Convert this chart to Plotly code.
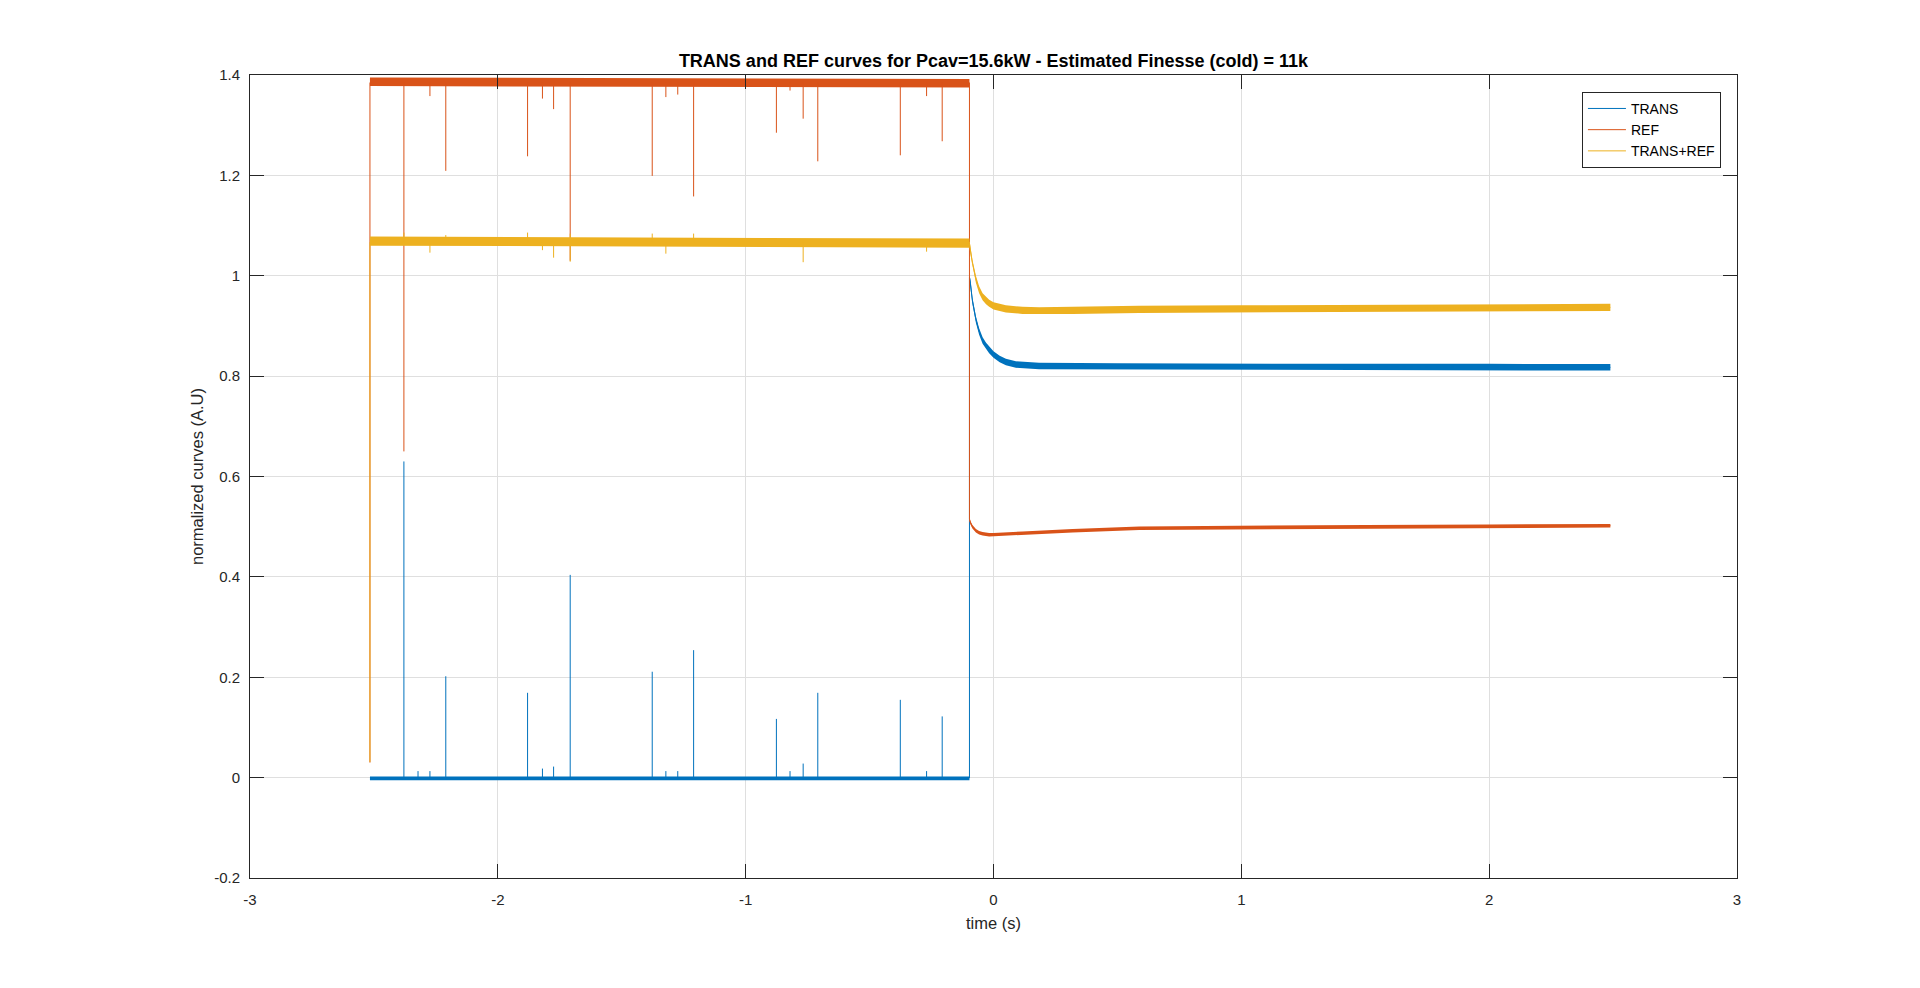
import plotly.graph_objects as go

# ---------------- data ----------------
t_start = -2.516          # start of acquisition (s)
t_step = -0.097           # time of the lock loss / power step (s)

# TRANS
trans_start_val = -0.001
trans_pre_t = [-2.516, -0.097]
trans_pre_hi = [0.002, 0.002]
trans_pre_lo = [-0.005, -0.005]
trans_base = -0.001
trans_spike_t = [-2.379, -2.322, -2.274, -2.210, -1.880, -1.820, -1.775, -1.708, -1.377,
                 -1.322, -1.274, -1.210, -0.876, -0.821, -0.768, -0.709, -0.376, -0.270, -0.207]
trans_spike_v = [0.630, 0.013, 0.013, 0.202, 0.169, 0.018, 0.022, 0.404, 0.211,
                 0.013, 0.013, 0.254, 0.117, 0.013, 0.028, 0.169, 0.155, 0.013, 0.122]
trans_post_t = [-0.097, -0.093, -0.085, -0.071, -0.058, -0.044, -0.030, -0.0175, 0.0, 0.025,
                0.050, 0.090, 0.184, 0.5, 1.0, 1.5, 2.0, 2.489]
trans_post_c = [0.997, 0.985, 0.950, 0.913, 0.889, 0.871, 0.860, 0.852, 0.843, 0.834,
                0.828, 0.823, 0.820, 0.819, 0.818, 0.818, 0.818, 0.8175]
trans_post_half = 0.0065

# REF
ref_start_val = 0.03
ref_pre_t = [-2.516, -0.097]
ref_pre_hi = [1.395, 1.392]
ref_pre_lo = [1.378, 1.375]
ref_base = 1.385
ref_spike_t = [-2.379, -2.274, -2.210, -1.880, -1.820, -1.775, -1.708, -1.377, -1.322,
               -1.274, -1.210, -0.876, -0.821, -0.768, -0.709, -0.376, -0.270, -0.207]
ref_spike_v = [0.650, 1.358, 1.209, 1.238, 1.353, 1.332, 1.030, 1.199, 1.356,
               1.361, 1.158, 1.285, 1.369, 1.313, 1.228, 1.240, 1.358, 1.268]
ref_post_t = [-0.097, -0.093, -0.085, -0.071, -0.058, -0.044, -0.0175, 0.0, 0.117, 0.319,
              0.588, 1.0, 1.5, 2.0, 2.489]
ref_post_c = [0.515, 0.508, 0.500, 0.492, 0.488, 0.486, 0.484, 0.484, 0.487, 0.492,
              0.497, 0.499, 0.500, 0.501, 0.502]
ref_post_half = 0.0035

# TRANS+REF
sum_start_val = 0.031
sum_pre_t = [-2.516, -0.097]
sum_pre_hi = [1.078, 1.074]
sum_pre_lo = [1.060, 1.056]
sum_base = 1.067
sum_spike_t = [-2.379, -2.274, -2.210, -1.880, -1.820, -1.775, -1.708, -1.708, -1.377,
               -1.322, -1.210, -0.768, -0.270]
sum_spike_v = [1.086, 1.046, 1.081, 1.086, 1.051, 1.036, 1.084, 1.028, 1.084,
               1.044, 1.084, 1.027, 1.048]
sum_post_t = [-0.097, -0.093, -0.085, -0.071, -0.058, -0.044, -0.030, -0.0175, 0.0, 0.050,
              0.117, 0.184, 0.319, 0.588, 1.0, 1.5, 2.0, 2.489]
sum_post_c = [1.064, 1.050, 1.025, 0.993, 0.972, 0.958, 0.950, 0.945, 0.940, 0.934,
              0.931, 0.930, 0.931, 0.933, 0.934, 0.935, 0.936, 0.937]
sum_post_half = 0.007

# axes / labels
x_ticks = [-3, -2, -1, 0, 1, 2, 3]
x_ticktext = ["-3", "-2", "-1", "0", "1", "2", "3"]
y_ticks = [-0.2, 0, 0.2, 0.4, 0.6, 0.8, 1, 1.2, 1.4]
y_ticktext = ["-0.2", "0", "0.2", "0.4", "0.6", "0.8", "1", "1.2", "1.4"]
title_text = "TRANS and REF curves for Pcav=15.6kW - Estimated Finesse (cold) = 11k"
names = ["TRANS", "REF", "TRANS+REF"]
colors = ["#0072BD", "#D95319", "#EDB120"]

# ---------------- figure ----------------
fig = go.Figure()


def add_series(name, color, start_val, pre_t, pre_hi, pre_lo, base,
               sp_t, sp_v, post_t, post_c, post_half):
    # noise band before the step
    fig.add_trace(go.Scatter(
        x=list(pre_t) + list(pre_t[::-1]),
        y=list(pre_hi) + list(pre_lo[::-1]),
        fill="toself", fillcolor=color, mode="lines",
        line=dict(width=0, color=color), hoverinfo="skip",
        showlegend=False, legendgroup=name))
    # noise band after the step
    hi = [c + post_half for c in post_c]
    lo = [c - post_half for c in post_c]
    fig.add_trace(go.Scatter(
        x=list(post_t) + list(post_t[::-1]),
        y=hi + lo[::-1],
        fill="toself", fillcolor=color, mode="lines",
        line=dict(width=0, color=color), hoverinfo="skip",
        showlegend=False, legendgroup=name))
    # thin lines: start edge, spikes, step and the post-step centre line
    xs = [pre_t[0], pre_t[0], None]
    ys = [start_val, base, None]
    for t, v in zip(sp_t, sp_v):
        xs += [t, t, None]
        ys += [base, v, None]
    xs += [pre_t[-1]] + list(post_t)
    ys += [base] + list(post_c)
    fig.add_trace(go.Scatter(
        x=xs, y=ys, mode="lines", name=name,
        line=dict(width=1, color=color), connectgaps=False,
        legendgroup=name))


add_series(names[0], colors[0], trans_start_val, trans_pre_t, trans_pre_hi, trans_pre_lo,
           trans_base, trans_spike_t, trans_spike_v, trans_post_t, trans_post_c, trans_post_half)
add_series(names[1], colors[1], ref_start_val, ref_pre_t, ref_pre_hi, ref_pre_lo,
           ref_base, ref_spike_t, ref_spike_v, ref_post_t, ref_post_c, ref_post_half)
add_series(names[2], colors[2], sum_start_val, sum_pre_t, sum_pre_hi, sum_pre_lo,
           sum_base, sum_spike_t, sum_spike_v, sum_post_t, sum_post_c, sum_post_half)

font_family = "Liberation Sans, Arial, Helvetica, sans-serif"
axis_common = dict(
    showline=True, linecolor="#262626", linewidth=1, mirror="ticks",
    ticks="inside", ticklen=14, tickwidth=1, tickcolor="#262626",
    showgrid=True, gridcolor="#DFDFDF", gridwidth=1, zeroline=False,
    tickfont=dict(family=font_family, size=15, color="#262626"),
)

fig.update_layout(
    width=1920, height=988,
    margin=dict(l=250, r=183, t=75, b=110),
    paper_bgcolor="white", plot_bgcolor="white",
    font=dict(family=font_family, size=15, color="#262626"),
    title=dict(text="<b>" + title_text + "</b>", x=0.5, xref="paper", xanchor="center",
               y=1 - 61 / 988, yref="container", yanchor="middle",
               font=dict(family=font_family, size=18, color="black")),
    xaxis=dict(range=[-3, 3], tickvals=x_ticks, ticktext=x_ticktext,
               ticklabelstandoff=8,
               title=dict(text="time (s)", font=dict(family=font_family, size=16.5, color="#262626"),
                          standoff=10),
               **axis_common),
    yaxis=dict(range=[-0.2, 1.4], tickvals=y_ticks, ticktext=y_ticktext,
               ticklabelstandoff=6,
               title=dict(text="normalized curves (A.U)", font=dict(family=font_family, size=16.5, color="#262626"),
                          standoff=6),
               **axis_common),
    legend=dict(x=0.9892, xanchor="right", y=0.979, yanchor="top",
                bgcolor="white", bordercolor="#262626", borderwidth=1,
                font=dict(family=font_family, size=14, color="black"),
                tracegroupgap=0, itemwidth=38),
    showlegend=True,
)

fig.write_html("out.html")
